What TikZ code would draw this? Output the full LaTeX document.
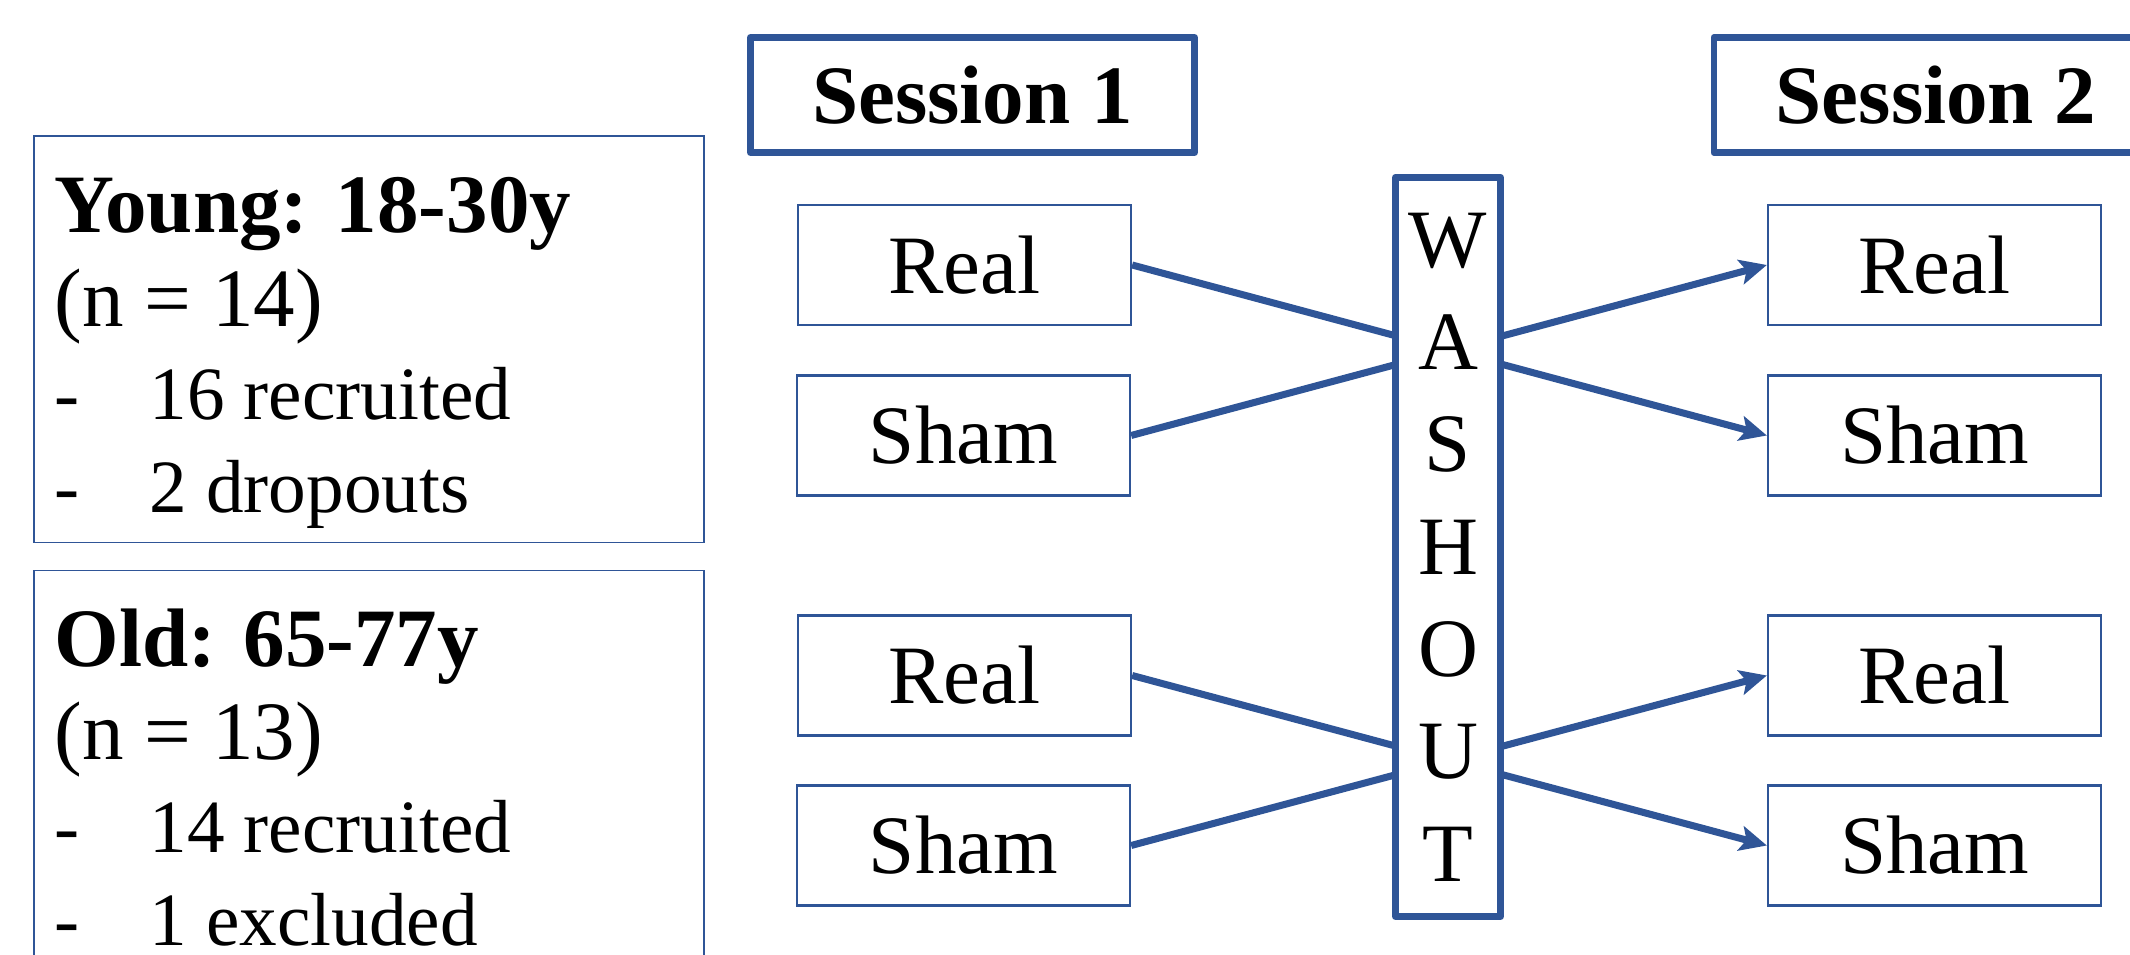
\documentclass[tikz,border=0pt]{standalone}
\usepackage{fontspec}
\setmainfont{Liberation Serif}
\usetikzlibrary{arrows.meta}
\definecolor{sessblue}{RGB}{47,85,151}
\newcommand{\grouprow}[1]{{\fontsize{21.4}{26.5}\selectfont\makebox[0.95cm][l]{-}#1}}

\begin{document}
\begin{tikzpicture}[x=0.01cm, y=-0.01cm,
        every node/.style={font=\fontsize{23.6}{26.5}\selectfont, inner sep=0pt},
        armbox/.style={draw=sessblue, line width=0.6pt, minimum width=3.33cm, minimum height=1.2cm},
        groupbox/.style={draw=sessblue, line width=0.5pt, minimum width=6.69cm, minimum height=4.06cm},
        thickbox/.style={draw=sessblue, line width=1.9pt, line join=round, fill=white},
        sessbox/.style={thickbox, minimum width=4.44cm, minimum height=1.15cm,
            font=\fontsize{23.6}{26.5}\selectfont\bfseries},
        cross/.style={draw=sessblue, line width=2pt,
            -{Stealth[length=0.27cm, width=0.25cm, inset=0.06cm]}}]
        \useasboundingbox (0,0) rectangle (2130,955);
        \clip (0,0) rectangle (2130,955);
        % age groups
        \node[groupbox] (young) at (369,339.5) {};
        \node[groupbox] (old) at (369,773.5) {};
        \node[anchor=north west, align=left] (youngtxt) at (54,177)
            {\textbf{Young: 18-30y}\\(n = 14)\\\grouprow{16 recruited}\\\grouprow{2 dropouts}};
        \node[anchor=north west, align=left] (oldtxt) at (54,608)
            {\textbf{Old: 65-77y}\\(n = 13)\\\grouprow{14 recruited}\\\grouprow{1 excluded}};
        % sessions
        \node[sessbox] (sess1) at (972.5,95) {Session 1};
        \node[sessbox] (sess2) at (1936,95) {Session 2};
        \node[armbox] (lreal1) at (964.5,265) {Real};
        \node[armbox] (lsham1) at (963.5,435.5) {Sham};
        \node[armbox] (lreal2) at (964.5,675.5) {Real};
        \node[armbox] (lsham2) at (963.5,845.5) {Sham};
        \node[armbox] (rreal1) at (1934.5,265) {Real};
        \node[armbox] (rsham1) at (1934.5,435.5) {Sham};
        \node[armbox] (rreal2) at (1934.5,675.5) {Real};
        \node[armbox] (rsham2) at (1934.5,845.5) {Sham};
        % crossover
        \draw[cross] (lreal1.east) -- (rsham1.west);
        \draw[cross] (lsham1.east) -- (rreal1.west);
        \draw[cross] (lreal2.east) -- (rsham2.west);
        \draw[cross] (lsham2.east) -- (rreal2.west);
        \node[thickbox, minimum width=1.05cm, minimum height=7.39cm, align=center,
            font=\fontsize{23.6}{29.1}\selectfont] (wash) at (1448,547) {W\\A\\S\\H\\O\\U\\T};
\end{tikzpicture}
\end{document}
